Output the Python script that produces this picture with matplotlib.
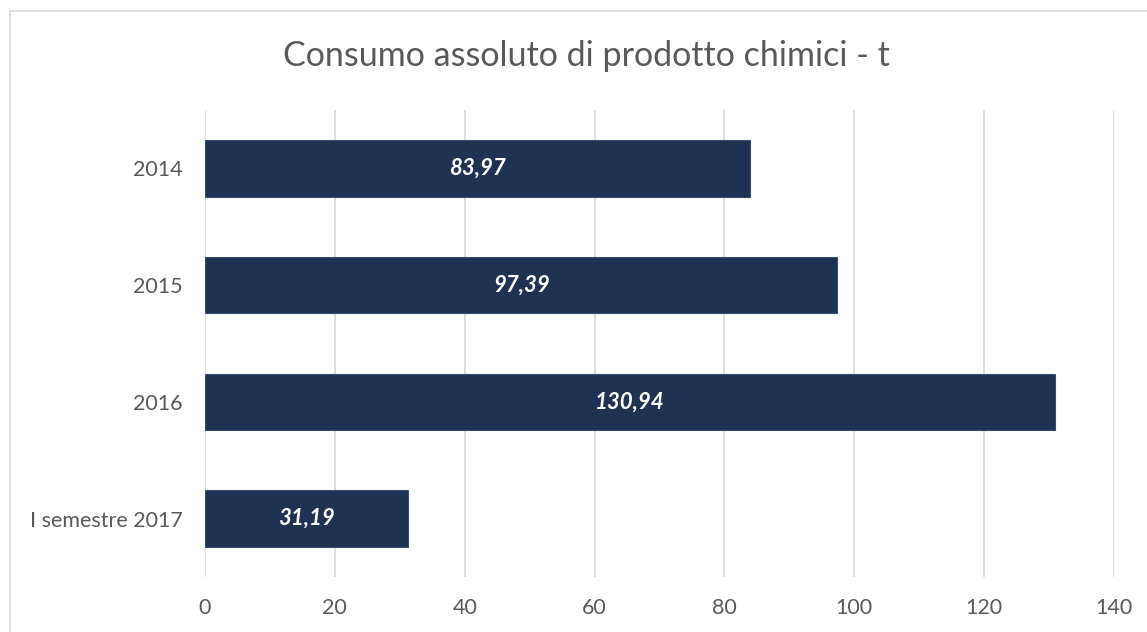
import matplotlib
matplotlib.use('Agg')
import matplotlib.pyplot as plt
from matplotlib.patches import Rectangle

# data
categories = ['2014', '2015', '2016', 'I semestre 2017']
values = [83.97, 97.39, 130.94, 31.19]
labels = ['83,97', '97,39', '130,94', '31,19']
x_ticks = [0, 20, 40, 60, 80, 100, 120, 140]

BAR_COLOR = '#1f3251'
TEXT_COLOR = '#595959'
GRID_COLOR = '#d9d9d9'

plt.rcParams['font.family'] = ['Lato', 'DejaVu Sans']

fig = plt.figure(figsize=(11.47, 6.32), dpi=100)
ax = fig.add_axes([205/1147, 1 - 577/632, (1114 - 205)/1147, (577 - 110)/632])

# chart frame, cut off on the right and bottom like the source
fig.patches.append(Rectangle((10/1147, -0.05), 1.1, 1 - 11/632 + 0.05,
                             transform=fig.transFigure, fill=False,
                             edgecolor=GRID_COLOR, linewidth=1.2))

pos = list(range(len(categories)))
bars = ax.barh(pos, values, height=0.485, color=BAR_COLOR,
               edgecolor='#3b4d6b', linewidth=0.8, zorder=3)
for rect, lab in zip(bars, labels):
    ax.text(rect.get_width() / 2, rect.get_y() + rect.get_height() / 2, lab,
            ha='center', va='center', color='white', fontsize=16,
            fontweight='bold', fontstyle='italic', zorder=4)

ax.set_ylim(len(categories) - 0.5, -0.5)
ax.set_yticks(pos)
ax.set_yticklabels(categories)
ax.set_xlim(0, 140)
ax.set_xticks(x_ticks)

ax.grid(axis='x', color=GRID_COLOR, linewidth=1.2, zorder=0)
ax.set_axisbelow(True)
for s in ax.spines.values():
    s.set_visible(False)
ax.tick_params(axis='both', length=0, labelsize=15.5, labelcolor=TEXT_COLOR)
ax.tick_params(axis='y', pad=16)
ax.tick_params(axis='x', pad=15)

fig.text(0.511, 1 - 56/632, 'Consumo assoluto di prodotto chimici - t',
         ha='center', va='center', fontsize=24.5, color=TEXT_COLOR)

fig.savefig('out.png', dpi=100)
